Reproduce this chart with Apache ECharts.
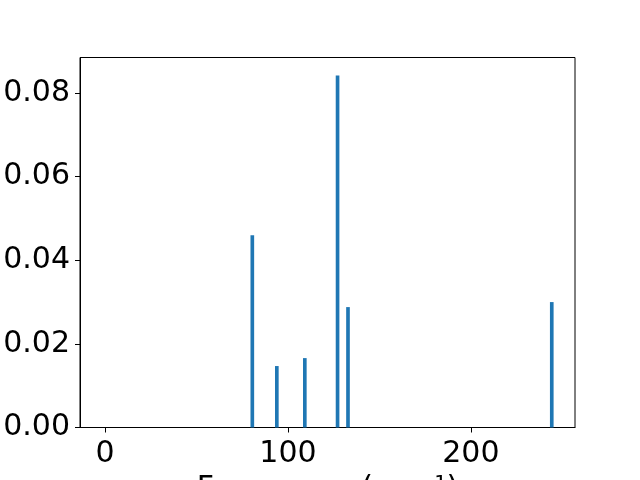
<!DOCTYPE html>
<html>
<head>
<meta charset="utf-8">
<script src="https://cdn.jsdelivr.net/npm/echarts@6/dist/echarts.min.js"></script>
<style>html,body{margin:0;padding:0;background:#fff}#c{width:640px;height:480px}</style>
</head>
<body>
<div id="c"></div>
<script>
const frequencies = [80.5, 93.9, 109.2, 127.1, 132.8, 244.2];
const intensities = [0.0460, 0.0147, 0.0166, 0.0842, 0.0288, 0.0300];
const xTicks = [0, 100, 200];
const yTicks = [0, 0.02, 0.04, 0.06, 0.08];
const xLabel = 'Frequency (cm\u207B\u00B9)';
const barWidthUnits = 2;

const chart = echarts.init(document.getElementById('c'), null, {renderer: 'canvas'});
const font = 'DejaVu Sans';
chart.setOption({
  animation: false,
  backgroundColor: '#fff',
  grid: {left: 80, right: 65, top: 57.5, bottom: 52.5, show: true, borderColor: '#000', borderWidth: 1, backgroundColor: 'transparent', containLabel: false, outerBoundsMode: 'none'},
  xAxis: {
    type: 'value', min: -13.7, max: 256.9,
    name: xLabel, nameLocation: 'middle', nameGap: 62, nameMoveOverlap: false,
    nameTextStyle: {fontFamily: font, fontSize: 30, color: '#000', verticalAlign: 'middle'},
    splitLine: {show: false},
    axisLine: {show: true, onZero: false, lineStyle: {color: '#000', width: 1}},
    axisTick: {show: true, length: 5, customValues: xTicks, lineStyle: {color: '#000'}},
    axisLabel: {customValues: xTicks, fontFamily: font, fontSize: 30, color: '#000', margin: 12}
  },
  yAxis: {
    type: 'value', min: 0, max: 0.0885,
    splitLine: {show: false},
    axisLine: {show: true, onZero: false, lineStyle: {color: '#000', width: 1}},
    axisTick: {show: true, length: 5, customValues: yTicks, lineStyle: {color: '#000'}},
    axisLabel: {customValues: yTicks, fontFamily: font, fontSize: 30, color: '#000', margin: 10,
      formatter: v => v.toFixed(2)}
  },
  series: [{
    type: 'custom',
    data: frequencies.map((f, i) => [f, intensities[i]]),
    renderItem: function (params, api) {
      const top = api.coord([api.value(0), api.value(1)]);
      const bot = api.coord([api.value(0), 0]);
      const w = api.size([barWidthUnits, 0])[0];
      return {type: 'rect', shape: {x: top[0] - w / 2, y: top[1], width: w, height: bot[1] - top[1]},
        style: {fill: '#1f77b4'}};
    }
  }]
});
</script>
</body>
</html>
